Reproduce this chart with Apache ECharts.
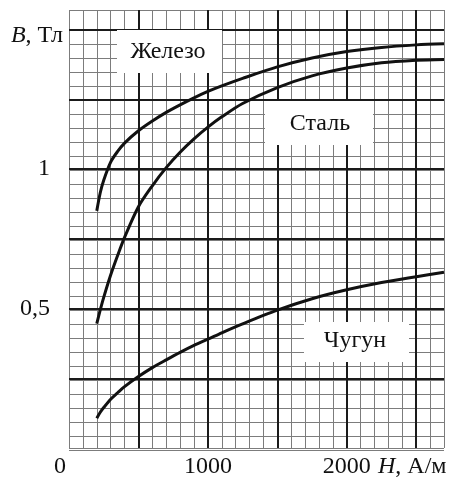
<!DOCTYPE html>
<html>
<head>
<meta charset="utf-8">
<script src="https://cdn.jsdelivr.net/npm/echarts@6/dist/echarts.min.js"></script>
<style>
  html, body { margin: 0; padding: 0; background: #fff; }
  #chart { width: 466px; height: 479px; }
</style>
</head>
<body>
<div id="chart"></div>
<script>
// H, А/м — общие точки для всех кривых
const H = [200, 225, 250, 300, 350, 400, 500, 600, 700, 800, 900, 1000, 1100, 1250, 1500, 1750, 2000, 2250, 2500, 2700];
// B, Тл
const ironB  = [0.85, 0.915, 0.96, 1.025, 1.063, 1.093, 1.137, 1.172, 1.203, 1.23, 1.255, 1.278, 1.298, 1.325, 1.366, 1.398, 1.421, 1.436, 1.445, 1.449];
const steelB = [0.446, 0.495, 0.54, 0.62, 0.69, 0.755, 0.865, 0.94, 1.005, 1.06, 1.108, 1.15, 1.187, 1.235, 1.292, 1.334, 1.362, 1.381, 1.39, 1.393];
const castB  = [0.107, 0.128, 0.145, 0.175, 0.198, 0.22, 0.256, 0.288, 0.316, 0.343, 0.368, 0.39, 0.413, 0.445, 0.494, 0.535, 0.567, 0.593, 0.614, 0.63];

const xTickLabels = { 0: '{z|0}', 1000: '1000', 2000: '2000' };
const yTickLabels = { 0.5: '0,5', 1: '1' };

const H_MAX = 2700;
const B_MAX = 1.57;   // верхняя кромка сетки
const B_TOP_GRID = 1.5;

const FONT = 'Liberation Serif, Times New Roman, serif';
const THIN = { color: '#7c7c7c', width: 1 };
const THICK = { color: '#1a1a1a', width: 2 };

const chart = echarts.init(document.getElementById('chart'));

const pairs = arr => H.map((h, i) => [h, arr[i]]);
const hidden = { axisLine: { show: false }, axisTick: { show: false }, axisLabel: { show: false } };

const option = {
  animation: false,
  grid: [
    { left: 69, right: 22, top: 10, bottom: 29 },
    { left: 69, right: 22, top: 30, bottom: 29 }
  ],
  xAxis: [
    // тонкие вертикали через 100
    { type: 'value', gridIndex: 0, min: 0, max: H_MAX, interval: 100, position: 'bottom', z: 0,
      splitLine: { show: true, lineStyle: THIN }, ...hidden },
    // толстые вертикали через 500 + подписи
    { type: 'value', gridIndex: 0, min: 0, max: H_MAX, interval: 500, position: 'bottom', z: 1,
      axisLine: { show: false }, axisTick: { show: false },
      splitLine: { show: true, showMinLine: false, showMaxLine: false, lineStyle: THICK },
      axisLabel: {
        margin: 7, color: '#111', fontFamily: FONT, fontSize: 24,
        formatter: v => xTickLabels[v] || '',
        rich: { z: { fontFamily: FONT, fontSize: 24, color: '#111', padding: [0, 18, 0, 0] } }
      } },
    { type: 'value', gridIndex: 1, min: 0, max: H_MAX, interval: 500, z: 0,
      splitLine: { show: false }, ...hidden }
  ],
  yAxis: [
    // рамка (низ и верх)
    { type: 'value', gridIndex: 0, min: 0, max: B_MAX, interval: 10, position: 'left', z: 0,
      splitLine: { show: true, lineStyle: THIN }, ...hidden },
    // толстые горизонтали через 0,25 + подписи
    { type: 'value', gridIndex: 0, min: 0, max: B_MAX, interval: 0.25, position: 'left', z: 1,
      axisLine: { show: false }, axisTick: { show: false },
      splitLine: { show: true, showMinLine: false, showMaxLine: false, lineStyle: THICK },
      axisLabel: {
        margin: 19, color: '#111', fontFamily: FONT, fontSize: 24,
        formatter: v => yTickLabels[v] || ''
      } },
    // тонкие горизонтали через 0,05 (до 1,5)
    { type: 'value', gridIndex: 1, min: 0, max: B_TOP_GRID, interval: 0.05, position: 'left', z: 0,
      splitLine: { show: true, lineStyle: THIN }, ...hidden }
  ],
  series: [
    { name: 'Железо', data: pairs(ironB) },
    { name: 'Сталь', data: pairs(steelB) },
    { name: 'Чугун', data: pairs(castB) }
  ].map(s => ({
    ...s, type: 'line', xAxisIndex: 0, yAxisIndex: 1, smooth: 0.3,
    showSymbol: false, z: 3, lineStyle: { color: '#111', width: 3 }
  })),
  graphic: [
    { type: 'rect', z: 10, shape: { x: 117, y: 30, width: 105, height: 43 }, style: { fill: '#fff' } },
    { type: 'text', z: 11, x: 168, y: 52, style: { text: 'Железо', font: `24px ${FONT}`, fill: '#111', align: 'center', verticalAlign: 'middle' } },
    { type: 'rect', z: 10, shape: { x: 265, y: 101, width: 108, height: 44 }, style: { fill: '#fff' } },
    { type: 'text', z: 11, x: 320, y: 124, style: { text: 'Сталь', font: `24px ${FONT}`, fill: '#111', align: 'center', verticalAlign: 'middle' } },
    { type: 'rect', z: 10, shape: { x: 304, y: 322, width: 105, height: 40 }, style: { fill: '#fff' } },
    { type: 'text', z: 11, x: 355, y: 341, style: { text: 'Чугун', font: `24px ${FONT}`, fill: '#111', align: 'center', verticalAlign: 'middle' } },
    { type: 'text', z: 11, x: 63, y: 36, style: {
        text: '{i|B}, Тл', font: `24px ${FONT}`, fill: '#111', align: 'right', verticalAlign: 'middle',
        rich: { i: { fontStyle: 'italic', fontFamily: FONT, fontSize: 24, fill: '#111' } } } },
    { type: 'text', z: 11, x: 378, y: 467, style: {
        text: '{i|H}, А/м', font: `24px ${FONT}`, fill: '#111', align: 'left', verticalAlign: 'middle',
        rich: { i: { fontStyle: 'italic', fontFamily: FONT, fontSize: 24, fill: '#111' } } } }
  ]
};

chart.setOption(option);
</script>
</body>
</html>
